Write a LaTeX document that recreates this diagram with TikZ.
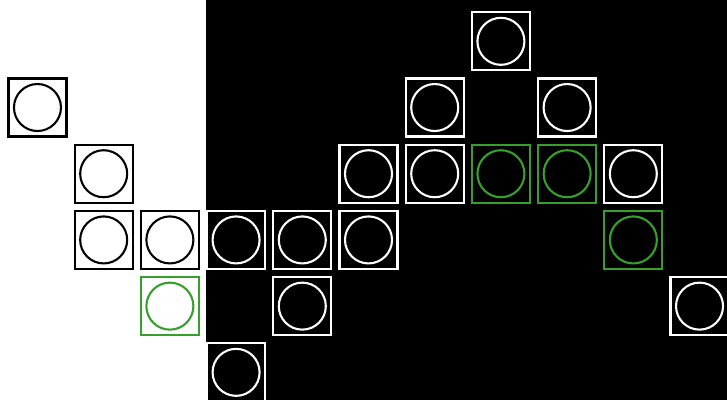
\documentclass[tikz,border=0pt]{standalone}
\definecolor{cellGreen}{RGB}{55, 160, 45}
\usepackage{tikz}
\usetikzlibrary{positioning}

\tikzset{
    cell/.style={draw=#1, line width=0.9pt, minimum size=0.876cm, inner sep=0pt},
    ring/.style={draw=#1, line width=0.9pt, circle, minimum size=0.71cm, inner sep=0pt}
}

\begin{document}
\begin{tikzpicture}
        % Canvas: white strip on the left, black panel on the right
        \useasboundingbox (-0.566,0.624) rectangle (10.415,-5.418);
        \fill[white] (-0.566,0.624) rectangle (2.545,-5.418);
        \fill[black] (2.545,0.624) rectangle (10.415,-5.418);

        % Cells on the white strip
        \node[cell=black] (a01) at (0,-1) {};
        \node[ring=black] at (a01) {};
        \node[cell=black] (a12) at (1,-2) {};
        \node[ring=black] at (a12) {};
        \node[cell=black] (a13) at (1,-3) {};
        \node[ring=black] at (a13) {};
        \node[cell=black] (a23) at (2,-3) {};
        \node[ring=black] at (a23) {};
        \node[cell=cellGreen] (a24) at (2,-4) {};
        \node[ring=cellGreen] at (a24) {};

        % Cells on the black panel
        \node[cell=white] (b33) at (3,-3) {};
        \node[ring=white] at (b33) {};
        \node[cell=white] (b43) at (4,-3) {};
        \node[ring=white] at (b43) {};
        \node[cell=white] (b53) at (5,-3) {};
        \node[ring=white] at (b53) {};
        \node[cell=white] (b35) at (3,-5) {};
        \node[ring=white] at (b35) {};
        \node[cell=white] (b44) at (4,-4) {};
        \node[ring=white] at (b44) {};
        \node[cell=white] (b52) at (5,-2) {};
        \node[ring=white] at (b52) {};
        \node[cell=white] (b62) at (6,-2) {};
        \node[ring=white] at (b62) {};
        \node[cell=white] (b61) at (6,-1) {};
        \node[ring=white] at (b61) {};
        \node[cell=white] (b70) at (7,0) {};
        \node[ring=white] at (b70) {};
        \node[cell=white] (b81) at (8,-1) {};
        \node[ring=white] at (b81) {};
        \node[cell=white] (b92) at (9,-2) {};
        \node[ring=white] at (b92) {};
        \node[cell=white] (b104) at (10,-4) {};
        \node[ring=white] at (b104) {};

        % Highlighted cells
        \node[cell=cellGreen] (b72) at (7,-2) {};
        \node[ring=cellGreen] at (b72) {};
        \node[cell=cellGreen] (b82) at (8,-2) {};
        \node[ring=cellGreen] at (b82) {};
        \node[cell=cellGreen] (b93) at (9,-3) {};
        \node[ring=cellGreen] at (b93) {};
    \end{tikzpicture}
\end{document}
